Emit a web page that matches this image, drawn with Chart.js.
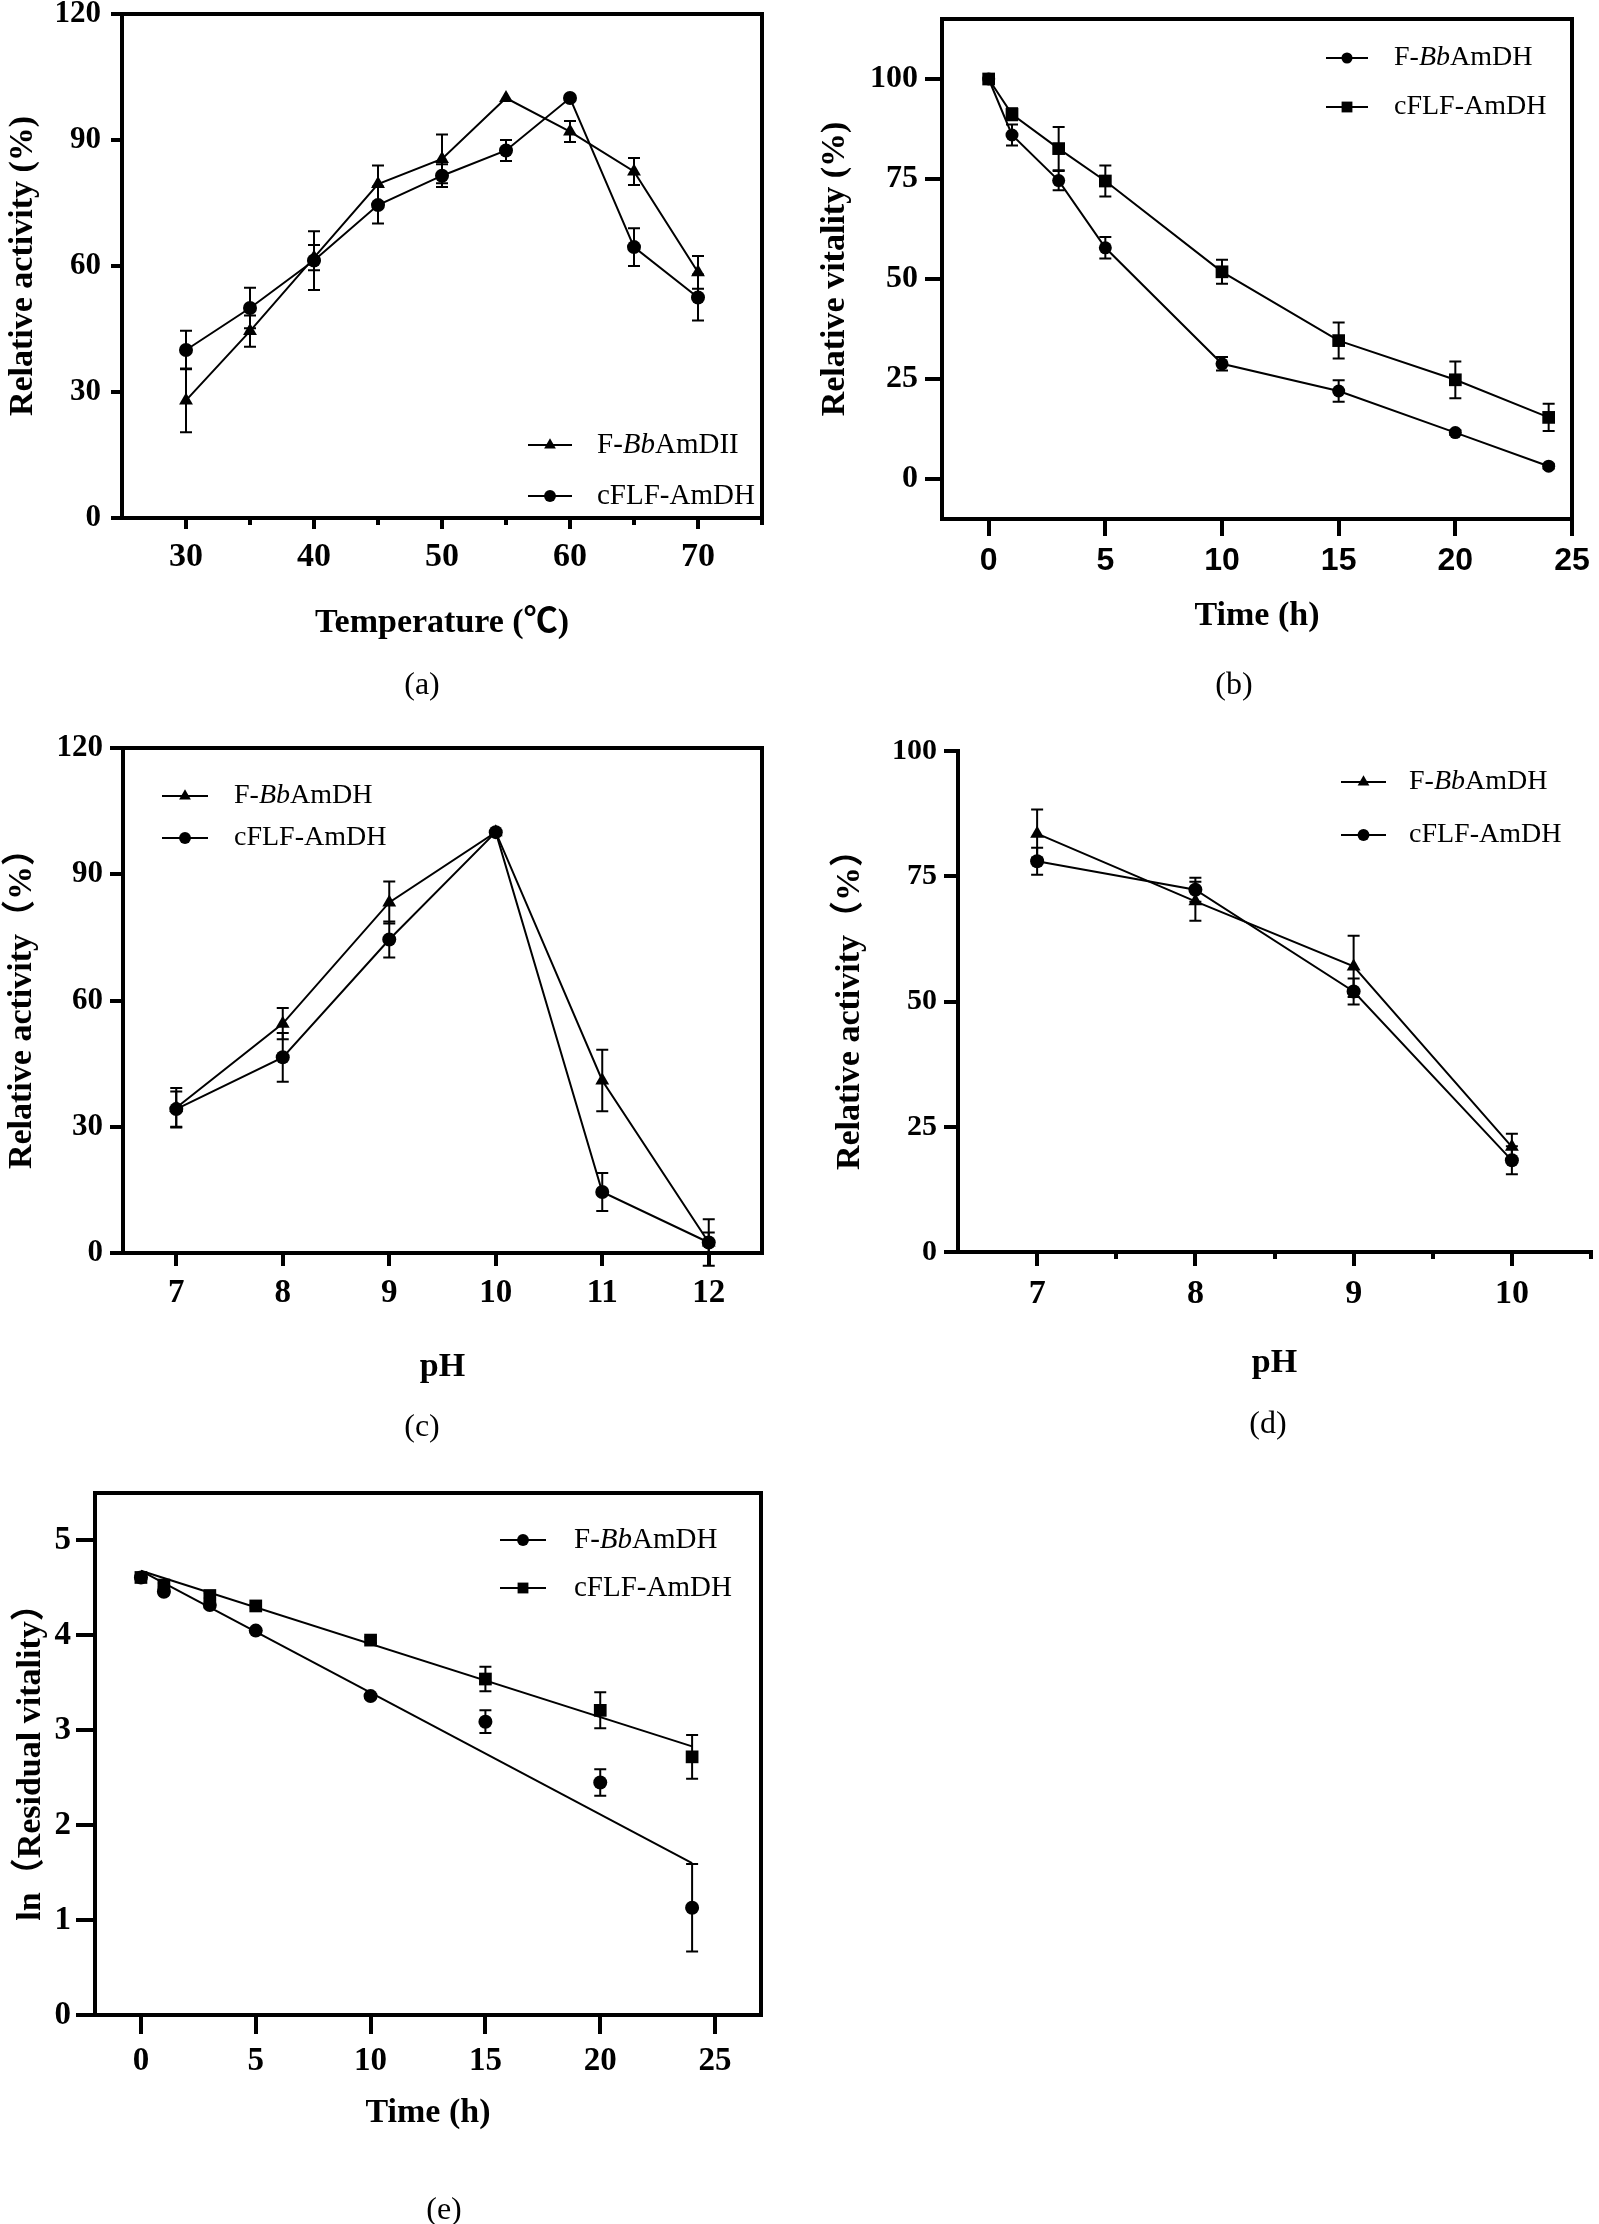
<!DOCTYPE html>
<html>
<head>
<meta charset="utf-8">
<script src="https://cdn.jsdelivr.net/npm/chart.js@4.4.0/dist/chart.umd.min.js"></script>
<style>
  html, body { margin: 0; padding: 0; background: #fff; }
  #page { position: relative; width: 1599px; height: 2224px; overflow: hidden; background: #fff; }
  #page canvas { position: absolute; left: 0; top: 0; }
  .cap { position: absolute; font: 32px "Liberation Serif", serif; color: #000; transform: translate(-50%, -50%); white-space: nowrap; }
</style>
</head>
<body>
<div id="page">
  <canvas id="chartA" width="1599" height="2224"></canvas>
  <canvas id="chartB" width="1599" height="2224"></canvas>
  <canvas id="chartC" width="1599" height="2224"></canvas>
  <canvas id="chartD" width="1599" height="2224"></canvas>
  <canvas id="chartE" width="1599" height="2224"></canvas>
  <div class="cap" style="left:422px;top:683px">(a)</div>
  <div class="cap" style="left:1234px;top:683px">(b)</div>
  <div class="cap" style="left:422px;top:1425px">(c)</div>
  <div class="cap" style="left:1268px;top:1422px">(d)</div>
  <div class="cap" style="left:444px;top:2208px">(e)</div>
</div>
<script>
// (a) temperature
const tempC = [30, 35, 40, 45, 50, 55, 60, 65, 70]
const tempF = [28, 44.5, 62, 79.5, 85.5, 100, 92, 82.5, 58.5]
const tempFErr = [7.6, 3.7, 3, 4.4, 5.8, 0, 2.5, 3.2, 3.9]
const tempCflf = [40, 50, 61.3, 74.5, 81.5, 87.5, 100, 64.5, 52.5]
const tempCflfErr = [4.6, 4.8, 7, 4.4, 2.7, 2.5, 0, 4.5, 5.5]
const tempXTicks = [30, 40, 50, 60, 70]
const tempXMinor = [35, 45, 55, 65, 75]
const tempYTicks = [0, 30, 60, 90, 120]

// (b) thermal stability over time
const hours = [0, 1, 3, 5, 10, 15, 20, 24]
const vitF = [100, 86, 74.6, 57.8, 28.8, 22, 11.6, 3.2]
const vitFErr = [0, 2.6, 2.4, 2.7, 1.7, 2.7, 0.6, 0.6]
const vitCflf = [100, 91.2, 82.6, 74.5, 51.8, 34.6, 24.8, 15.4]
const vitCflfErr = [0, 1.5, 5.4, 3.9, 3, 4.5, 4.6, 3.4]
const hourTicks = [0, 5, 10, 15, 20, 25]
const vitYTicks = [0, 25, 50, 75, 100]

// (c) pH optimum
const phWide = [7, 8, 9, 10, 11, 12]
const phF = [34.5, 54.5, 83.3, 100, 41, 2.5]
const phFErr = [4.7, 3.7, 5, 0, 7.3, 5.5]
const phCflf = [34.2, 46.5, 74.5, 100, 14.5, 2.5]
const phCflfErr = [4.2, 5.8, 4.3, 0, 4.5, 2.4]
const phYTicks = [0, 30, 60, 90, 120]

// (d) pH stability
const phNarrow = [7, 8, 9, 10]
const stabF = [83.5, 70, 57, 21]
const stabFErr = [4.8, 3.9, 6.1, 2.6]
const stabCflf = [78, 72.3, 52, 18.3]
const stabCflfErr = [2.7, 2.4, 2.6, 2.8]
const phNarrowMinor = [7.5, 8.5, 9.5, 10.5]
const stabYTicks = [0, 25, 50, 75, 100]

// (e) ln(residual vitality) with fitted lines
const lnF = [4.61, 4.46, 4.32, 4.05, 3.36, 3.09, 2.45, 1.13]
const lnFErr = [0, 0.03, 0.03, 0.02, 0.02, 0.12, 0.14, 0.46]
const lnCflf = [4.61, 4.53, 4.42, 4.31, 3.95, 3.54, 3.21, 2.72]
const lnCflfErr = [0, 0.02, 0.03, 0.02, 0.03, 0.13, 0.19, 0.23]
const fitHours = [0, 24]
const fitF = [4.68, 1.6]
const fitCflf = [4.68, 2.83]
const lnYTicks = [0, 1, 2, 3, 4, 5]

const SERIF = '"Liberation Serif", "Times New Roman", "Noto Sans CJK SC", serif'
const SANS = '"Liberation Sans", Arial, sans-serif'
const PAGE_W = 1599
const PAGE_H = 2224

const toPoints = (xs, ys) => xs.map((x, i) => ({ x: x, y: ys[i] }))

const zeroPad = (axis) => {
  axis.paddingLeft = 0
  axis.paddingRight = 0
  axis.paddingTop = 0
  axis.paddingBottom = 0
}
const fixTicks = (values) => (axis) => { axis.ticks = values.map(v => ({ value: v })) }

//error bars, placed through the chart scales
const errorBars = {
  id: 'errorBars',
  beforeDatasetsDraw(chart) {
    const ctx = chart.ctx
    chart.data.datasets.forEach((ds) => {
      if (!ds.errors) return
      const xs = chart.scales.x
      const ys = chart.scales.y
      ctx.save()
      ctx.strokeStyle = '#000'
      ctx.lineWidth = 2
      ds.data.forEach((p, i) => {
        const e = ds.errors[i]
        if (!e) return
        const px = xs.getPixelForValue(p.x)
        const top = ys.getPixelForValue(p.y + e)
        const bot = ys.getPixelForValue(p.y - e)
        ctx.beginPath()
        ctx.moveTo(px, top); ctx.lineTo(px, bot)
        ctx.moveTo(px - 6, top); ctx.lineTo(px + 6, top)
        ctx.moveTo(px - 6, bot); ctx.lineTo(px + 6, bot)
        ctx.stroke()
      })
      ctx.restore()
    })
  }
}

//legend with the italic strain name
const markLegend = {
  id: 'markLegend',
  afterDraw(chart, args, opts) {
    const ctx = chart.ctx
    const items = chart.data.datasets.filter(ds => ds.inLegend !== false)
    ctx.save()
    items.forEach((ds, i) => {
      const y = opts.rows[i]
      ctx.strokeStyle = '#000'
      ctx.lineWidth = 2
      ctx.beginPath()
      ctx.moveTo(opts.lineFrom, y)
      ctx.lineTo(opts.lineTo, y)
      ctx.stroke()
      ctx.fillStyle = '#000'
      Chart.helpers.drawPoint(ctx, {
        pointStyle: ds.pointStyle, radius: ds.pointRadius * 0.85, borderWidth: 0
      }, (opts.lineFrom + opts.lineTo) / 2, y)

      const label = ds.label
      const k = label.indexOf('Bb')
      const parts = k < 0 ? [[label, false]] :
        [[label.slice(0, k), false], ['Bb', true], [label.slice(k + 2), false]]
      let x = opts.textX
      ctx.textBaseline = 'middle'
      ctx.textAlign = 'left'
      parts.forEach(([txt, it]) => {
        ctx.font = (it ? 'italic ' : '') + opts.size + 'px ' + SERIF
        ctx.fillText(txt, x, y)
        x += ctx.measureText(txt).width
      })
    })
    ctx.restore()
  }
}

function series(label, xs, ys, errs, style, radius) {
  return {
    label: label,
    data: toPoints(xs, ys),
    errors: errs,
    showLine: true,
    borderColor: '#000',
    borderWidth: 2,
    pointStyle: style,
    pointRadius: radius,
    pointBackgroundColor: '#000',
    pointBorderColor: '#000',
    pointBorderWidth: 0,
    clip: false
  }
}

function makePanel(id, p) {
  const titleFont = { family: SERIF, size: 34, weight: 'bold', lineHeight: 1.2 }
  const lh = 34 * 1.2
  const yW = p.area.left - p.yTitleX + lh / 2
  const xH = p.xTitleY - p.area.bottom + lh / 2
  const lw = 4

  const scales = {
    x: {
      type: 'linear', position: 'bottom', weight: 1,
      min: p.xRange[0], max: p.xRange[1],
      afterBuildTicks: fixTicks(p.xTicks),
      afterFit: (a) => { a.height = xH; zeroPad(a) },
      grid: { drawOnChartArea: false, drawTicks: true, tickLength: p.tickLen, lineWidth: lw, tickWidth: lw, color: '#000', tickColor: '#000' },
      border: { display: true, width: lw, color: '#000' },
      ticks: { color: '#000', font: p.xFont, padding: p.xPad, autoSkip: false, maxRotation: 0 },
      title: { display: true, text: p.xTitle, color: '#000', font: titleFont, padding: 0 }
    },
    y: {
      type: 'linear', position: 'left',
      min: p.yRange[0], max: p.yRange[1],
      afterBuildTicks: fixTicks(p.yTicks),
      afterFit: (a) => { a.width = yW; zeroPad(a) },
      grid: { drawOnChartArea: false, drawTicks: true, tickLength: p.tickLen, lineWidth: lw, tickWidth: lw, color: '#000', tickColor: '#000' },
      border: { display: true, width: lw, color: '#000' },
      ticks: { color: '#000', font: p.yFont, padding: p.yPad, autoSkip: false },
      title: { display: true, text: p.yTitle, color: '#000', font: titleFont, padding: 0 }
    }
  }
  if (p.minor) {
    scales.xMinor = {
      type: 'linear', position: 'bottom', weight: 0,
      min: p.xRange[0], max: p.xRange[1],
      afterBuildTicks: fixTicks(p.minor),
      afterFit: (a) => { a.height = 0; zeroPad(a) },
      grid: { drawOnChartArea: false, drawTicks: true, tickLength: p.minorLen, lineWidth: lw, tickWidth: lw, color: '#000', tickColor: '#000' },
      border: { display: false },
      ticks: { display: false }
    }
  }
  if (p.box) {
    scales.xTop = {
      type: 'linear', position: 'top', min: p.xRange[0], max: p.xRange[1],
      afterFit: (a) => { a.height = 0; zeroPad(a) },
      grid: { display: false }, ticks: { display: false },
      border: { display: true, width: lw, color: '#000' }
    }
    scales.yRight = {
      type: 'linear', position: 'right', min: p.yRange[0], max: p.yRange[1],
      afterFit: (a) => { a.width = 0; zeroPad(a) },
      grid: { display: false }, ticks: { display: false },
      border: { display: true, width: lw, color: '#000' }
    }
  }

  return new Chart(document.getElementById(id), {
    type: 'scatter',
    data: { datasets: p.datasets },
    plugins: [errorBars, markLegend],
    options: {
      responsive: false,
      animation: false,
      devicePixelRatio: 1,
      events: [],
      layout: {
        padding: {
          left: p.area.left - yW,
          top: p.area.top,
          right: PAGE_W - p.area.right,
          bottom: PAGE_H - p.area.bottom - xH
        }
      },
      scales: scales,
      plugins: {
        legend: { display: false },
        tooltip: { enabled: false },
        markLegend: p.legend
      }
    }
  })
}

const serifBold = (size) => ({ family: SERIF, size: size, weight: 'bold' })

makePanel('chartA', {
  area: { left: 122, top: 14, right: 762, bottom: 518 },
  xRange: [25, 75], yRange: [0, 120],
  xTicks: tempXTicks, yTicks: tempYTicks, minor: tempXMinor,
  tickLen: 11, minorLen: 7, box: true,
  xFont: serifBold(34), yFont: serifBold(31), xPad: 8, yPad: 10,
  xTitle: 'Temperature (℃)', yTitle: 'Relative activity (%)',
  xTitleY: 623, yTitleX: 23,
  legend: { lineFrom: 528, lineTo: 572, textX: 597, rows: [445, 496], size: 29 },
  datasets: [
    series('F-BbAmDII', tempC, tempF, tempFErr, 'triangle', 8),
    series('cFLF-AmDH', tempC, tempCflf, tempCflfErr, 'circle', 7)
  ]
})

makePanel('chartB', {
  area: { left: 942, top: 19, right: 1572, bottom: 519 },
  xRange: [-2, 25], yRange: [-10, 115],
  xTicks: hourTicks, yTicks: vitYTicks,
  tickLen: 17, box: true,
  xFont: { family: SANS, size: 32, weight: 'bold' }, yFont: serifBold(32), xPad: 6, yPad: 7,
  xTitle: 'Time (h)', yTitle: 'Relative vitality (%)',
  xTitleY: 616, yTitleX: 835,
  legend: { lineFrom: 1326, lineTo: 1368, textX: 1394, rows: [58, 107], size: 28 },
  datasets: [
    series('F-BbAmDH', hours, vitF, vitFErr, 'circle', 6.5),
    series('cFLF-AmDH', hours, vitCflf, vitCflfErr, 'rect', 9)
  ]
})

makePanel('chartC', {
  area: { left: 123, top: 748, right: 762, bottom: 1253 },
  xRange: [6.5, 12.5], yRange: [0, 120],
  xTicks: phWide, yTicks: phYTicks,
  tickLen: 13, box: true,
  xFont: serifBold(33), yFont: serifBold(31), xPad: 8, yPad: 7,
  xTitle: 'pH', yTitle: 'Relative activity（%）',
  xTitleY: 1367, yTitleX: 22,
  legend: { lineFrom: 162, lineTo: 208, textX: 234, rows: [796, 838], size: 28 },
  datasets: [
    series('F-BbAmDH', phWide, phF, phFErr, 'triangle', 8),
    series('cFLF-AmDH', phWide, phCflf, phCflfErr, 'circle', 7)
  ]
})

makePanel('chartD', {
  area: { left: 958, top: 751, right: 1592, bottom: 1252 },
  xRange: [6.5, 10.5], yRange: [0, 100],
  xTicks: phNarrow, yTicks: stabYTicks, minor: phNarrowMinor,
  tickLen: 14, minorLen: 7, box: false,
  xFont: serifBold(34), yFont: serifBold(30), xPad: 8, yPad: 7,
  xTitle: 'pH', yTitle: 'Relative activity（%）',
  xTitleY: 1363, yTitleX: 850,
  legend: { lineFrom: 1341, lineTo: 1386, textX: 1409, rows: [782, 835], size: 28 },
  datasets: [
    series('F-BbAmDH', phNarrow, stabF, stabFErr, 'triangle', 8),
    series('cFLF-AmDH', phNarrow, stabCflf, stabCflfErr, 'circle', 7)
  ]
})

const fitLine = (ys) => ({
  data: toPoints(fitHours, ys), inLegend: false, showLine: true,
  borderColor: '#000', borderWidth: 2, pointRadius: 0, clip: false
})
const markers = (label, ys, errs, style, radius) => {
  const ds = series(label, hours, ys, errs, style, radius)
  ds.showLine = false
  return ds
}

makePanel('chartE', {
  area: { left: 95, top: 1493, right: 761, bottom: 2015 },
  xRange: [-2, 27], yRange: [0, 5.5],
  xTicks: hourTicks, yTicks: lnYTicks,
  tickLen: 19, box: true,
  xFont: serifBold(33), yFont: serifBold(33), xPad: 8, yPad: 5,
  xTitle: 'Time (h)', yTitle: 'ln（Residual vitality）',
  xTitleY: 2113, yTitleX: 31,
  legend: { lineFrom: 500, lineTo: 546, textX: 574, rows: [1540, 1588], size: 29 },
  datasets: [
    markers('F-BbAmDH', lnF, lnFErr, 'circle', 7),
    markers('cFLF-AmDH', lnCflf, lnCflfErr, 'rect', 9),
    fitLine(fitF),
    fitLine(fitCflf)
  ]
})
</script>
</body>
</html>
